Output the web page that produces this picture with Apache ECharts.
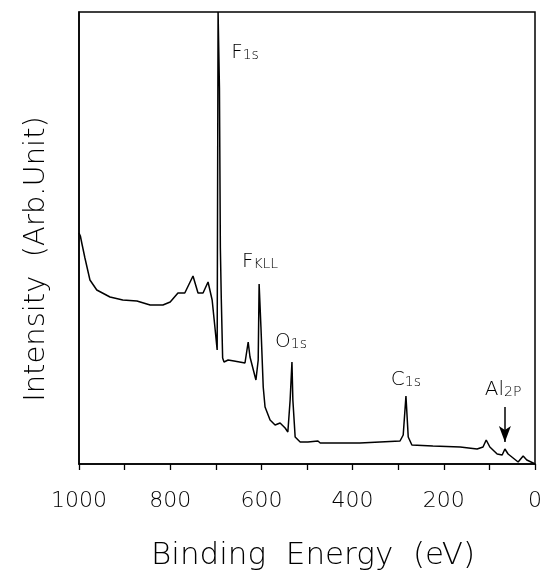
<!DOCTYPE html>
<html>
<head>
<meta charset="utf-8">
<script src="https://cdn.jsdelivr.net/npm/echarts@6/dist/echarts.min.js"></script>
<style>html,body{margin:0;padding:0;background:#fff}#c{width:552px;height:579px}</style>
</head>
<body>
<div id="c"></div>
<script>
// Binding energy (eV) and intensity (arb. units)
const energy = [1000,997,993,987,976,961,932,904,873,844,816,800,783,768,750,739,728,717,708,702,697,695,692,690,688,685,682,673,660,636,629,625,612,607,605,601,596,592,581,570,559,548,542,537,533,531,526,515,498,476,471,428,384,340,296,289,283,278,270,224,164,127,114,107,99,83,72,66,59,48,37,26,18,4,0];
const intensity = [231,228,219,206,184,174,167,164,163,159,159,162,171,171,188,171,171,182,164,137,114,452,376,216,166,106,102,104,103,101,122,107,84,104,180,137,77,57,44,39,41,36,32,64,102,64,27,22,22,23,21,21,21,22,23,29,68,27,19,18,17,15,17,24,17,10,9,15,10,6,2,8,4,1,0];
const xTickLabels = ['1000','800','600','400','200','0'];
// Peak annotations: main symbol, subscript, label position (eV, intensity)
const peakMain = ['F','F','O','C','Al'];
const peakSub = ['1s','KLL','1s','1s','2P'];
const peakLabelE = [636,603,535,283,70];
const peakLabelI = [411,202,122,84,74];
// Al 2p arrow (eV, from intensity, to intensity)
const arrowE = 66, arrowFrom = 57, arrowTo = 22;

const FONT = '"DejaVu Sans", "Liberation Sans", sans-serif';
const data = energy.map((e,i)=>[e,intensity[i]]);
const chart = echarts.init(document.getElementById('c'), null, {renderer:'canvas'});
chart.setOption({
  animation:false,
  backgroundColor:'#fff',
  grid:{left:79,right:17,top:12,bottom:115,containLabel:false,show:true,borderColor:'#000',borderWidth:1.5,backgroundColor:'transparent'},
  xAxis:{
    type:'value',min:0,max:1000,interval:100,inverse:true,position:'bottom',
    axisLine:{show:true,onZero:false,lineStyle:{color:'#000',width:1.5}},
    axisTick:{show:true,inside:false,length:6,lineStyle:{color:'#000',width:1.3}},
    splitLine:{show:false},
    axisLabel:{color:'#000',fontFamily:FONT,fontWeight:200,fontSize:22,margin:26,
      formatter:v=>{const s=String(v);return (v%200===0 && xTickLabels.indexOf(s)>=0)?s:'';}},
    name:'Binding  Energy  (eV)',nameLocation:'middle',nameGap:76,
    nameTextStyle:{color:'#000',fontFamily:FONT,fontWeight:200,fontSize:31,padding:[0,0,0,12]}
  },
  yAxis:{
    type:'value',min:0,max:452,position:'left',
    axisLine:{show:true,onZero:false,lineStyle:{color:'#000',width:1.5}},
    axisTick:{show:false},axisLabel:{show:false},splitLine:{show:false},
    name:'Intensity  (Arb.Unit)',nameLocation:'middle',nameGap:28,
    nameTextStyle:{color:'#000',fontFamily:FONT,fontWeight:200,fontSize:29,padding:[0,42,0,0]}
  },
  series:[{
    type:'line',data:data,showSymbol:false,symbol:'none',
    lineStyle:{color:'#000',width:1.5},
    markPoint:{
      symbol:'circle',symbolSize:0,
      label:{show:true,position:'inside',color:'#000',
        rich:{b:{fontFamily:FONT,fontWeight:200,fontSize:20,color:'#000'},
              s:{fontFamily:FONT,fontWeight:200,fontSize:14,color:'#000',padding:[4,0,0,0]}}},
      data:peakMain.map((m,i)=>({coord:[peakLabelE[i],peakLabelI[i]],value:0,
        label:{formatter:'{b|'+m+'}{s|'+peakSub[i]+'}'}}))
    },
    markLine:{
      silent:true,symbol:['none','arrow'],symbolSize:[9,16],
      lineStyle:{color:'#000',width:1.5,type:'solid'},label:{show:false},
      data:[[{coord:[arrowE,arrowFrom]},{coord:[arrowE,arrowTo]}]]
    }
  }]
});
</script>
</body>
</html>
